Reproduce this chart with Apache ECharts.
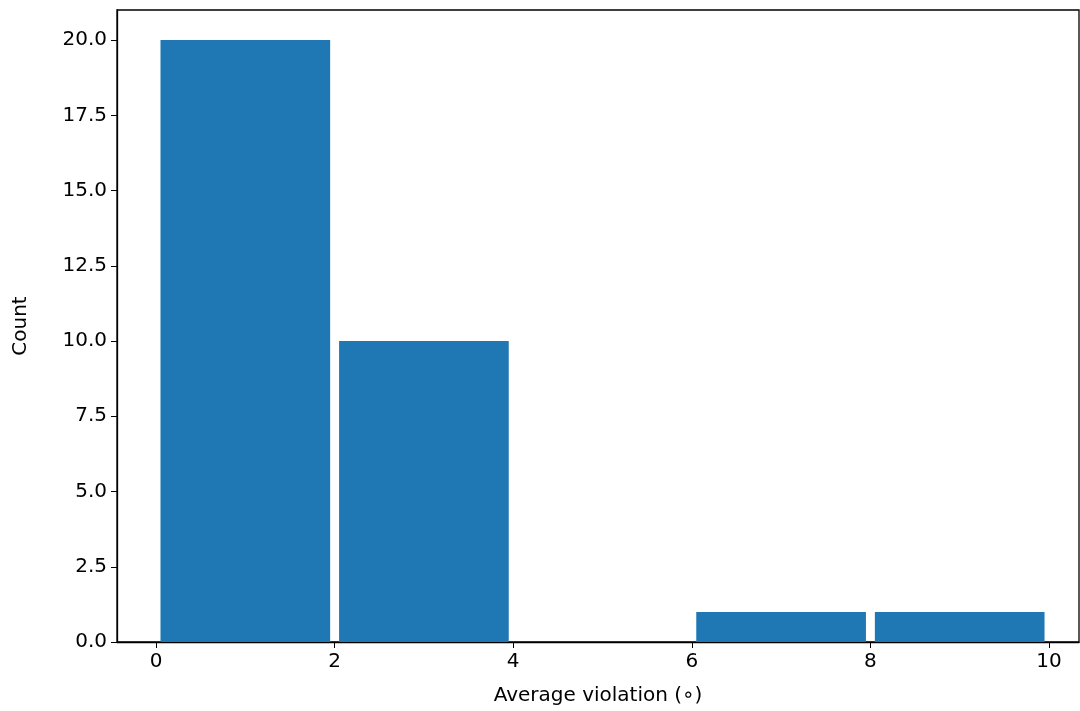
<!DOCTYPE html>
<html>
<head>
<meta charset="utf-8">
<script src="https://cdn.jsdelivr.net/npm/echarts@6/dist/echarts.min.js"></script>
<style>html,body{margin:0;padding:0;background:#fff}#chart{width:1080px;height:711px}</style>
</head>
<body>
<div id="chart"></div>
<script>
// histogram bins (degrees) and counts
const binStart = [0, 2, 4, 6, 8];
const binEnd = [2, 4, 6, 8, 10];
const counts = [20, 10, 0, 1, 1];
const xTicks = [0, 2, 4, 6, 8, 10];
const yTicks = [0, 2.5, 5, 7.5, 10, 12.5, 15, 17.5, 20];

const rwidth = 0.95;
const font = "DejaVu Sans";

const chart = echarts.init(document.getElementById("chart"));
const data = counts.map((c, i) => [binStart[i], binEnd[i], c]);

chart.setOption({
  animation: false,
  grid: {
    left: 117, right: 1, top: 10, bottom: 68,
    show: true, borderColor: "#000", borderWidth: 1.3, backgroundColor: "transparent"
  },
  xAxis: {
    type: "value", min: -0.437, max: 10.336,
    name: "Average violation (\u2218)", nameLocation: "middle", nameGap: 44,
    nameTextStyle: { fontFamily: font, fontSize: 20, color: "#000" },
    splitLine: { show: false },
    axisLine: { onZero: false, lineStyle: { color: "#000", width: 1.3 } },
    axisTick: { show: true, customValues: xTicks, length: 6, lineStyle: { color: "#000" } },
    axisLabel: { customValues: xTicks, fontFamily: font, fontSize: 20, color: "#000", margin: 10 }
  },
  yAxis: {
    type: "value", min: 0, max: 21,
    name: "Count", nameLocation: "middle", nameGap: 86, nameRotate: 90,
    nameTextStyle: { fontFamily: font, fontSize: 20, color: "#000" },
    splitLine: { show: false },
    axisLine: { show: true, onZero: false, lineStyle: { color: "#000", width: 1.3 } },
    axisTick: { show: true, customValues: yTicks, length: 6, lineStyle: { color: "#000" } },
    axisLabel: {
      customValues: yTicks,
      fontFamily: font, fontSize: 20, color: "#000", margin: 10,
      formatter: v => v.toFixed(1)
    }
  },
  series: [{
    type: "custom",
    data: data,
    encode: { x: [0, 1], y: 2 },
    renderItem: (params, api) => {
      const s = api.value(0), e = api.value(1), c = api.value(2);
      if (!c) return null;
      const pad = (e - s) * (1 - rwidth) / 2;
      const p0 = api.coord([s + pad, c]);
      const p1 = api.coord([e - pad, 0]);
      return {
        type: "rect",
        shape: { x: p0[0], y: p0[1], width: p1[0] - p0[0], height: p1[1] - p0[1] },
        style: { fill: "#1f77b4" }
      };
    }
  }]
});
</script>
</body>
</html>
